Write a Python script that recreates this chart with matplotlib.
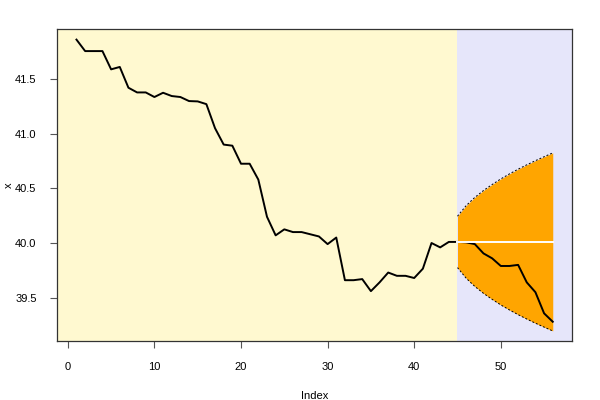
import matplotlib
matplotlib.use('Agg')
import matplotlib.pyplot as plt

# observed series (index 1..56)
idx = list(range(1, 57))
x = [41.86, 41.755, 41.755, 41.755, 41.588, 41.61, 41.42, 41.377, 41.377, 41.335,
     41.374, 41.344, 41.335, 41.298, 41.295, 41.27, 41.05, 40.90, 40.89, 40.725,
     40.725, 40.58, 40.24, 40.07, 40.125, 40.10, 40.10, 40.08, 40.06, 39.99,
     40.05, 39.66, 39.66, 39.67, 39.56, 39.64, 39.73, 39.70, 39.70, 39.68,
     39.765, 40.00, 39.96, 40.01, 40.01, 40.006, 39.99, 39.905, 39.86, 39.79,
     39.79, 39.80, 39.64, 39.55, 39.357, 39.28]

# forecast region
fc_idx = list(range(45, 57))
fc_mean = [40.01] * 12
fc_upper = [40.245, 40.342, 40.417, 40.48, 40.535, 40.586, 40.632, 40.675,
            40.715, 40.753, 40.789, 40.824]
fc_lower = [39.775, 39.678, 39.603, 39.54, 39.485, 39.434, 39.388, 39.345,
            39.305, 39.267, 39.231, 39.196]

plt.rcParams['font.family'] = ['Liberation Sans', 'DejaVu Sans']
plt.rcParams['font.size'] = 8

fig = plt.figure(figsize=(6, 4), dpi=100)
ax = fig.add_axes([0.0957, 0.1475, 0.8573, 0.78])

xmin, xmax = -1.2, 58.2
ymin, ymax = 39.104, 41.957
ax.axvspan(xmin, 45, color='#FFF9D0', lw=0)
ax.axvspan(45, xmax, color='#E6E6FA', lw=0)

ax.fill_between(fc_idx, fc_lower, fc_upper, color='#FFA500', lw=0)
ax.plot(fc_idx, fc_upper, color='black', ls=(0, (2, 2)), lw=0.7)
ax.plot(fc_idx, fc_lower, color='black', ls=(0, (2, 2)), lw=0.7)
ax.plot(idx, x, color='black', lw=1.4)
ax.plot(fc_idx, fc_mean, color='white', lw=1.4)

ax.set_xlim(xmin, xmax)
ax.set_ylim(ymin, ymax)
ax.set_xticks([0, 10, 20, 30, 40, 50])
ax.set_yticks([39.5, 40.0, 40.5, 41.0, 41.5])
ax.set_yticklabels(['39.5', '40.0', '40.5', '41.0', '41.5'])
ax.tick_params(direction='out', length=5, width=0.8, color='#555555', pad=10)
for s in ax.spines.values():
    s.set_color('#333333')
    s.set_linewidth(0.9)

ax.set_xlabel('Index', labelpad=14)
ax.set_ylabel('x')
ax.yaxis.set_label_coords(-0.085, 0.5)

fig.savefig('out.png', dpi=100)
